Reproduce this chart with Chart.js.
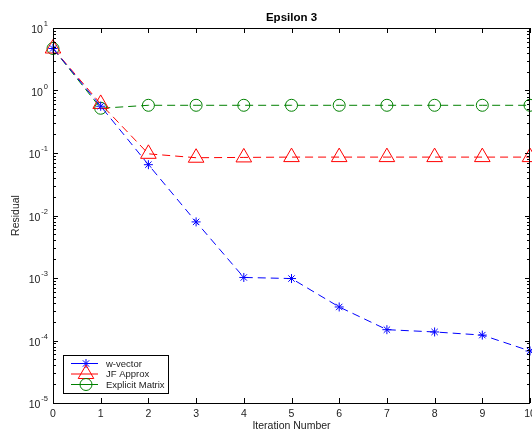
<!DOCTYPE html>
<html>
<head>
<meta charset="utf-8">
<script src="https://cdn.jsdelivr.net/npm/chart.js@4.4.1/dist/chart.umd.min.js"></script>
<style>
  body { margin: 0; background: #fff; }
  #wrap { width: 532px; height: 434px; }
</style>
</head>
<body>
<div id="wrap"><canvas id="myChart"></canvas></div>
<script>
const iterations = [0, 1, 2, 3, 4, 5, 6, 7, 8, 9, 10];
const wVector = [4.7, 0.56, 0.065, 0.0079, 0.00102, 0.00098, 0.000344, 0.000149, 0.000137, 0.000122, 0.000068];
const jfApprox = [4.7, 0.61, 0.097, 0.084, 0.085, 0.086, 0.086, 0.086, 0.086, 0.086, 0.086];
const explicitMatrix = [4.7, 0.52, 0.58, 0.58, 0.58, 0.58, 0.58, 0.58, 0.58, 0.58, 0.58];
const yTickExps = [-5, -4, -3, -2, -1, 0, 1];
const xTickLabels = ['0', '1', '2', '3', '4', '5', '6', '7', '8', '9', '10'];

const FONT = '"Liberation Sans", Arial, sans-serif';
const TXT = '#222';

// axes box, inward ticks, labels, title (MATLAB look)
const axesPlugin = {
    id: 'axesPlugin',
    afterDatasetsDraw(chart) {
        const { ctx, chartArea: a } = chart;
        const xs = chart.scales.x, ys = chart.scales.y;
        ctx.save();
        ctx.strokeStyle = '#000';
        ctx.lineWidth = 1;
        ctx.strokeRect(a.left + 0.5, a.top + 0.5, a.right - a.left - 1, a.bottom - a.top);

        ctx.beginPath();
        // y ticks
        for (let e = -5; e <= 1; e++) {
            for (let m = 1; m <= 9; m++) {
                if (e === 1 && m > 1) break;
                const y = Math.round(ys.getPixelForValue(m * Math.pow(10, e))) + 0.5;
                const len = m === 1 ? 5 : 3;
                ctx.moveTo(a.left, y); ctx.lineTo(a.left + len, y);
                ctx.moveTo(a.right, y); ctx.lineTo(a.right - len, y);
            }
        }
        // x ticks
        iterations.forEach(v => {
            const x = Math.round(xs.getPixelForValue(v)) + 0.5;
            ctx.moveTo(x, a.bottom); ctx.lineTo(x, a.bottom - 5);
            ctx.moveTo(x, a.top); ctx.lineTo(x, a.top + 5);
        });
        ctx.stroke();

        ctx.fillStyle = TXT;
        // x tick labels
        ctx.font = '10.5px ' + FONT;
        ctx.textAlign = 'center';
        ctx.textBaseline = 'middle';
        iterations.forEach((v, i) => {
            ctx.fillText(xTickLabels[i], xs.getPixelForValue(v), 414);
        });
        // y tick labels 10^e
        yTickExps.forEach(e => {
            const y = ys.getPixelForValue(Math.pow(10, e));
            const R = 48;
            ctx.font = '7.5px ' + FONT;
            ctx.textAlign = 'right';
            const ex = String(e);
            const ew = ctx.measureText(ex).width;
            ctx.fillText(ex, R, y - 4);
            ctx.font = '10.5px ' + FONT;
            ctx.fillText('10', R - ew - 1, y + 2.5);
        });
        // axis titles
        ctx.textAlign = 'center';
        ctx.font = '10.5px ' + FONT;
        ctx.fillText('Iteration Number', (a.left + a.right) / 2, 426);
        ctx.save();
        ctx.translate(16, (a.top + a.bottom) / 2);
        ctx.rotate(-Math.PI / 2);
        ctx.fillText('Residual', 0, 0);
        ctx.restore();
        ctx.font = 'bold 11.5px ' + FONT;
        ctx.fillStyle = '#000';
        ctx.fillText('Epsilon 3', (a.left + a.right) / 2, 18);
        ctx.restore();
    },
    afterDraw(chart) {
        // legend box in lower-left corner
        const { ctx } = chart;
        const bx = 63, by = 355, bw = 105, bh = 38;
        ctx.save();
        ctx.fillStyle = '#fff';
        ctx.fillRect(bx, by, bw, bh);
        ctx.strokeStyle = '#000';
        ctx.lineWidth = 1;
        ctx.strokeRect(bx + 0.5, by + 0.5, bw, bh);
        chart.data.datasets.forEach((ds, i) => {
            const y = 363.5 + i * 10.5;
            ctx.strokeStyle = ds.borderColor;
            ctx.lineWidth = 1;
            ctx.beginPath();
            ctx.moveTo(71, y); ctx.lineTo(98, y);
            ctx.stroke();
            ctx.fillStyle = 'rgba(0,0,0,0)';
            Chart.helpers.drawPoint(ctx, {
                pointStyle: ds.pointStyle, radius: ds.pointRadius, rotation: 0, borderWidth: 1
            }, 86, y);
            ctx.fillStyle = TXT;
            ctx.font = '9.5px ' + FONT;
            ctx.textAlign = 'left';
            ctx.textBaseline = 'middle';
            ctx.fillText(ds.label, 106, y + 0.5);
        });
        ctx.restore();
    }
};

function series(label, data, color, style, r) {
    return {
        label: label,
        data: data,
        borderColor: color,
        borderWidth: 1,
        borderDash: [8, 5],
        pointStyle: style,
        pointRadius: r,
        pointBorderColor: color,
        pointBackgroundColor: 'rgba(0,0,0,0)',
        pointBorderWidth: 1,
        tension: 0,
        fill: false,
        clip: false
    };
}

new Chart(document.getElementById('myChart'), {
    type: 'line',
    data: {
        labels: iterations,
        datasets: [
            series('w-vector', wVector, '#0000ff', 'star', 4.5),
            series('JF Approx', jfApprox, '#ff0000', 'triangle', 9),
            series('Explicit Matrix', explicitMatrix, '#008000', 'circle', 6)
        ]
    },
    options: {
        responsive: true,
        maintainAspectRatio: false,
        animation: false,
        devicePixelRatio: 1,
        layout: { autoPadding: false, padding: { left: 53, top: 28, right: 2, bottom: 31 } },
        scales: {
            x: { type: 'linear', min: 0, max: 10, display: false },
            y: { type: 'logarithmic', min: 1e-5, max: 10, display: false }
        },
        plugins: {
            legend: { display: false },
            title: { display: false },
            tooltip: { enabled: false }
        }
    },
    plugins: [axesPlugin]
});
</script>
</body>
</html>
